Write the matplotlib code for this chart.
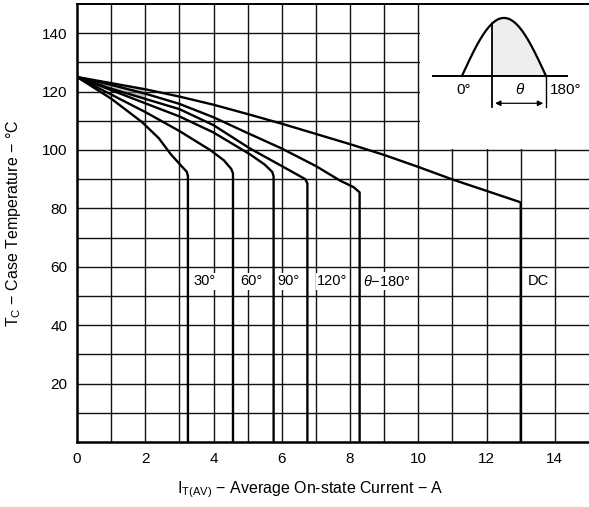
import numpy as np
import matplotlib
matplotlib.use("Agg")
import matplotlib.pyplot as plt
from matplotlib.patches import Rectangle

plt.rcParams['font.family'] = ['Liberation Sans', 'DejaVu Sans']
plt.rcParams['mathtext.fontset'] = 'custom'
plt.rcParams['mathtext.rm'] = 'Liberation Sans'
plt.rcParams['mathtext.it'] = 'Liberation Sans:italic'

# curve data: I_T(AV) [A] vs T_C [degC]
x_30 = [0, 1, 1.9, 2.4, 2.75, 3.1, 3.22, 3.25, 3.25]
y_30 = [125, 117.6, 109.6, 104, 98.5, 94, 92.5, 91, 0]

x_60 = [0, 1, 2, 3, 3.9, 4.3, 4.52, 4.57, 4.57]
y_60 = [125, 119, 113, 106.5, 100, 96.5, 93.5, 92, 0]

x_90 = [0, 1, 2, 3, 4, 5.07, 5.5, 5.72, 5.76, 5.76]
y_90 = [125, 120.5, 116, 111.5, 106, 98.5, 95, 92.5, 91, 0]

x_120 = [0, 1, 2, 3, 4, 5.07, 6, 6.69, 6.75, 6.75]
y_120 = [125, 121, 117.5, 114, 108.5, 100.5, 94.5, 90, 88.5, 0]

x_180 = [0, 1, 2, 3, 4, 5, 6, 7, 7.71, 8.1, 8.28, 8.28]
y_180 = [125, 122.3, 119.3, 115.8, 111.2, 105.8, 100.5, 94.5, 89.5, 87.3, 85.5, 0]

x_dc = [0, 2, 3, 4, 5, 6, 7, 8, 9, 10, 11, 12, 12.94, 13, 13]
y_dc = [125, 120.8, 118.3, 115.5, 112.3, 109, 105.5, 102, 98.3, 94.2, 89.9, 86, 82.3, 82, 0]

curves = [(x_30, y_30), (x_60, y_60), (x_90, y_90), (x_120, y_120), (x_180, y_180), (x_dc, y_dc)]

labels = ['30°', '60°', '90°', '120°', r'$\theta$' + '−180°', 'DC']
label_x = [3.4, 4.78, 5.86, 7.04, 8.39, 13.2]
label_y = 55

fig = plt.figure(figsize=(5.89, 5.07), dpi=100)
ax = fig.add_axes([77 / 589, 1 - 442 / 507, 1 - 77 / 589, 438 / 507])
ax.set_xlim(0, 15)
ax.set_ylim(0, 150)

# grid
for gx in range(1, 15):
    ax.axvline(gx, color='#111111', lw=1.0, zorder=1)
for gy in range(10, 150, 10):
    ax.axhline(gy, color='#111111', lw=1.0, zorder=1)

# inset area hides the grid
ax.add_patch(Rectangle((10.05, 100.3), 5, 50, facecolor='white', edgecolor='none', zorder=2))

for cx, cy in curves:
    ax.plot(cx, cy, color='black', lw=1.7, zorder=3, solid_joinstyle='round')

# screen tone near the origin
xs = np.linspace(0.3, 2.0, 30)
ax.fill_between(xs, np.interp(xs, x_120, y_120), np.interp(xs, x_dc, y_dc),
                color='#888888', alpha=0.5, lw=0, zorder=2)

for lab, lx in zip(labels, label_x):
    ax.text(lx, label_y, lab, fontsize=10.5, va='center', ha='left', zorder=4,
            bbox=dict(facecolor='white', edgecolor='none', pad=1.0))

ax.set_xticks(range(0, 15, 2))
ax.set_yticks(range(20, 150, 20))
ax.tick_params(length=0, labelsize=11, pad=7)
for s in ['left', 'bottom']:
    ax.spines[s].set_linewidth(1.8)
ax.spines['top'].set_linewidth(1.4)
ax.spines['right'].set_visible(False)

ax.set_xlabel(r'I$_{\mathrm{T(AV)}}$' + ' − Average On-state Current − A', fontsize=11.5)
ax.xaxis.set_label_coords(0.455, -0.085)
ax.set_ylabel(r'T$_{\mathrm{C}}$' + ' − Case Temperature − °C', fontsize=11.5)
ax.yaxis.set_label_coords(-0.105, 0.5)

# inset: conduction angle diagram
ins = fig.add_axes([418 / 589, 1 - 148 / 507, 171 / 589, 144 / 507])
ins.set_xlim(-94, 272)
ins.set_ylim(-1.24, 1.24)
ins.axis('off')
fire = 65
deg = np.linspace(0, 180, 200)
ins.plot(deg, np.sin(np.radians(deg)), color='black', lw=1.6)
dshade = np.linspace(fire, 180, 100)
ins.fill_between(dshade, 0, np.sin(np.radians(dshade)), color='#eeeeee', lw=0)
ins.plot([-62, 225], [0, 0], color='black', lw=1.4)
ins.plot([fire, fire], [np.sin(np.radians(fire)), -0.53], color='black', lw=1.3)
ins.plot([180, 180], [-0.02, -0.53], color='black', lw=1.0)
ins.annotate('', xy=(fire, -0.47), xytext=(180, -0.47),
             arrowprops=dict(arrowstyle='<|-|>', color='black', lw=0.9, mutation_scale=8))
ins.text(4, -0.24, '0°', fontsize=11, ha='center', va='center')
ins.text(124, -0.24, r'$\theta$', fontsize=11, ha='center', va='center')
ins.text(188, -0.24, '180°', fontsize=11, ha='left', va='center')

fig.savefig('out.png', dpi=100)
